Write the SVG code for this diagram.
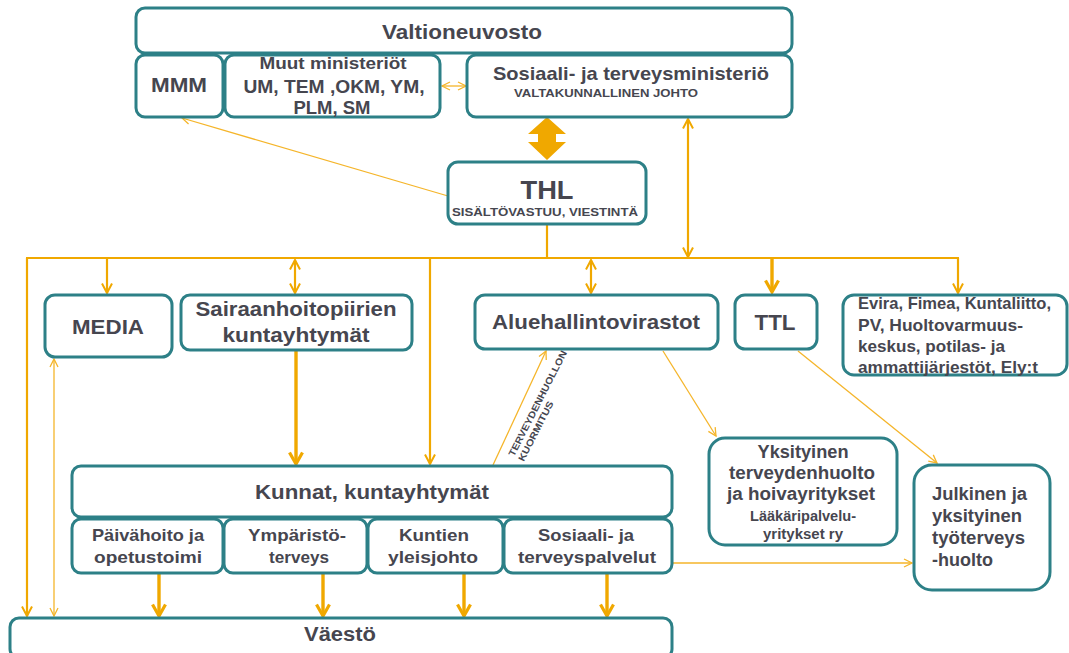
<svg xmlns="http://www.w3.org/2000/svg" width="1069" height="653" viewBox="0 0 1069 653">
<style>
.box{fill:#fff;stroke:#2d8087;stroke-width:3}
.t{font-family:"Liberation Sans",Arial,sans-serif;font-weight:bold;fill:#46464f;text-anchor:middle}
.tl{font-family:"Liberation Sans",Arial,sans-serif;font-weight:bold;fill:#46464f;text-anchor:start}
.thin{stroke:#f5b52a;stroke-width:1.3;fill:none}
.med{stroke:#f0a800;stroke-width:2.2;fill:none}
.thick{stroke:#f0a800;stroke-width:3.4;fill:none}
</style>
<defs>
<marker id="aThin" markerUnits="userSpaceOnUse" viewBox="0 0 10 10" markerWidth="10" markerHeight="10" refX="9" refY="5" orient="auto-start-reverse"><path d="M1,1 L9,5 L1,9" fill="none" stroke="#f5b52a" stroke-width="1.3"/></marker>
<marker id="aMed" markerUnits="userSpaceOnUse" viewBox="0 0 12 12" markerWidth="12" markerHeight="12" refX="10.5" refY="6" orient="auto-start-reverse"><path d="M1,1 L10.5,6 L1,11" fill="none" stroke="#f0a800" stroke-width="2"/></marker>
<marker id="aThick" markerUnits="userSpaceOnUse" viewBox="0 0 16 16" markerWidth="16" markerHeight="16" refX="13" refY="8" orient="auto-start-reverse"><path d="M1.5,1.5 L13,8 L1.5,14.5" fill="none" stroke="#f0a800" stroke-width="3.2"/></marker>
</defs>

<g id="connectors">
<line class="thin" x1="448" y1="196" x2="182" y2="118" marker-end="url(#aThin)"/>
<line class="thin" x1="442" y1="86" x2="466" y2="86" marker-start="url(#aThin)" marker-end="url(#aThin)"/>
<polygon points="547,117 566,134 556,134 556,142 566,142 547,160 528,142 538,142 538,134 528,134" fill="#f0a800"/>
<line class="med" x1="688" y1="119" x2="688" y2="257" stroke-width="1.8" marker-start="url(#aMed)" marker-end="url(#aMed)"/>
<line class="med" x1="547" y1="225" x2="547" y2="258" stroke-width="2.6"/>
<line class="med" x1="26" y1="258" x2="959" y2="258" stroke-width="2.6"/>
<line class="med" x1="27" y1="258" x2="27" y2="616" marker-end="url(#aMed)"/>
<line class="med" x1="107" y1="258" x2="107" y2="293" marker-end="url(#aMed)"/>
<line class="med" x1="295" y1="260" x2="295" y2="293" stroke-width="2.8" marker-start="url(#aMed)" marker-end="url(#aMed)"/>
<line class="med" x1="430" y1="258" x2="430" y2="464" marker-end="url(#aMed)"/>
<line class="med" x1="591" y1="260" x2="591" y2="293" marker-start="url(#aMed)" marker-end="url(#aMed)"/>
<line class="thick" x1="772" y1="258" x2="772" y2="292" marker-end="url(#aThick)"/>
<line class="med" x1="958" y1="258" x2="958" y2="293" stroke-width="2" marker-end="url(#aMed)"/>
<line class="thin" x1="54" y1="359" x2="54" y2="616" marker-start="url(#aThin)" marker-end="url(#aThin)"/>
<line class="thick" x1="296" y1="351" x2="296" y2="464" marker-end="url(#aThick)"/>
<line class="thin" x1="493" y1="465" x2="546" y2="351" marker-end="url(#aThin)"/>
<line class="thin" x1="663" y1="351" x2="716" y2="436" marker-end="url(#aThin)"/>
<line class="thin" x1="798" y1="351" x2="937" y2="463" marker-end="url(#aThin)"/>
<line class="thin" x1="673" y1="563" x2="912" y2="563" marker-end="url(#aThin)"/>
<line class="thick" x1="159" y1="574" x2="159" y2="616" marker-end="url(#aThick)"/>
<line class="thick" x1="323" y1="574" x2="323" y2="616" marker-end="url(#aThick)"/>
<line class="thick" x1="464" y1="574" x2="464" y2="616" marker-end="url(#aThick)"/>
<line class="thick" x1="607" y1="574" x2="607" y2="616" marker-end="url(#aThick)"/>
<g transform="translate(514,457) rotate(-63)">
<text class="tl" x="0" y="0" font-size="9.5" textLength="117" lengthAdjust="spacingAndGlyphs">TERVEYDENHUOLLON</text>
<text class="tl" x="0" y="11" font-size="9.5" textLength="66" lengthAdjust="spacingAndGlyphs">KUORMITUS</text>
</g>
</g>

<g id="valtioneuvosto">
<rect class="box" x="136" y="8" width="656" height="45" rx="9"/>
<text class="t" x="462" y="39" font-size="21" textLength="160" lengthAdjust="spacingAndGlyphs">Valtioneuvosto</text>
</g>
<g id="mmm">
<rect class="box" x="136" y="55" width="87" height="62" rx="9"/>
<text class="t" x="179" y="92" font-size="21" textLength="56" lengthAdjust="spacingAndGlyphs">MMM</text>
</g>
<g id="muut">
<rect class="box" x="225" y="55" width="215" height="62" rx="9"/>
<text class="t" x="333" y="69" font-size="17" textLength="147" lengthAdjust="spacingAndGlyphs">Muut ministeriöt</text>
<text class="t" x="334" y="93" font-size="19" textLength="181" lengthAdjust="spacingAndGlyphs">UM, TEM ,OKM, YM,</text>
<text class="t" x="332" y="114" font-size="19" textLength="77" lengthAdjust="spacingAndGlyphs">PLM, SM</text>
</g>
<g id="stm">
<rect class="box" x="467" y="55" width="325" height="62" rx="9"/>
<text class="t" x="631" y="80" font-size="19" textLength="276" lengthAdjust="spacingAndGlyphs">Sosiaali- ja terveysministeriö</text>
<text class="t" x="606" y="97" font-size="11.5" textLength="184" lengthAdjust="spacingAndGlyphs">VALTAKUNNALLINEN JOHTO</text>
</g>
<g id="thl">
<rect class="box" x="448" y="162" width="198" height="62" rx="10"/>
<text class="t" x="547" y="199" font-size="26" textLength="53" lengthAdjust="spacingAndGlyphs">THL</text>
<text class="t" x="545" y="216" font-size="11.5" textLength="186" lengthAdjust="spacingAndGlyphs">SISÄLTÖVASTUU, VIESTINTÄ</text>
</g>
<g id="media">
<rect class="box" x="45" y="295" width="127" height="62" rx="10"/>
<text class="t" x="108" y="334" font-size="21" textLength="72" lengthAdjust="spacingAndGlyphs">MEDIA</text>
</g>
<g id="sairaanhoito">
<rect class="box" x="181" y="295" width="231" height="55" rx="9"/>
<text class="t" x="296" y="316" font-size="20" textLength="201" lengthAdjust="spacingAndGlyphs">Sairaanhoitopiirien</text>
<text class="t" x="296" y="342" font-size="20" textLength="147" lengthAdjust="spacingAndGlyphs">kuntayhtymät</text>
</g>
<g id="aluehallinto">
<rect class="box" x="475" y="295" width="243" height="54" rx="10"/>
<text class="t" x="596" y="329" font-size="21" textLength="208" lengthAdjust="spacingAndGlyphs">Aluehallintovirastot</text>
</g>
<g id="ttl">
<rect class="box" x="735" y="295" width="82" height="54" rx="10"/>
<text class="t" x="775" y="330" font-size="22" textLength="41" lengthAdjust="spacingAndGlyphs">TTL</text>
</g>
<g id="evira">
<rect class="box" x="843" y="295" width="224" height="80" rx="11"/>
<text class="tl" x="858" y="309" font-size="16.5" textLength="193" lengthAdjust="spacingAndGlyphs">Evira, Fimea, Kuntaliitto,</text>
<text class="tl" x="858" y="331" font-size="16.5" textLength="165" lengthAdjust="spacingAndGlyphs">PV, Huoltovarmuus-</text>
<text class="tl" x="858" y="352" font-size="16.5" textLength="147" lengthAdjust="spacingAndGlyphs">keskus, potilas- ja</text>
<text class="tl" x="858" y="373" font-size="16.5" textLength="180" lengthAdjust="spacingAndGlyphs">ammattijärjestöt, Ely:t</text>
</g>
<g id="kunnat">
<rect class="box" x="72" y="466" width="600" height="51" rx="9"/>
<text class="t" x="372" y="499" font-size="20" textLength="234" lengthAdjust="spacingAndGlyphs">Kunnat, kuntayhtymät</text>
</g>
<g id="paivahoito">
<rect class="box" x="72" y="519" width="151" height="54" rx="9"/>
<text class="t" x="148" y="541" font-size="17" textLength="112" lengthAdjust="spacingAndGlyphs">Päivähoito ja</text>
<text class="t" x="148" y="563" font-size="17" textLength="108" lengthAdjust="spacingAndGlyphs">opetustoimi</text>
</g>
<g id="ymparisto">
<rect class="box" x="224" y="519" width="143" height="54" rx="9"/>
<text class="t" x="297" y="541" font-size="17" textLength="98" lengthAdjust="spacingAndGlyphs">Ympäristö-</text>
<text class="t" x="299" y="563" font-size="17" textLength="60" lengthAdjust="spacingAndGlyphs">terveys</text>
</g>
<g id="kuntien">
<rect class="box" x="368" y="519" width="135" height="54" rx="9"/>
<text class="t" x="434" y="541" font-size="17" textLength="70" lengthAdjust="spacingAndGlyphs">Kuntien</text>
<text class="t" x="433" y="563" font-size="17" textLength="90" lengthAdjust="spacingAndGlyphs">yleisjohto</text>
</g>
<g id="sosiaalipalvelut">
<rect class="box" x="504" y="519" width="168" height="54" rx="9"/>
<text class="t" x="586" y="541" font-size="17" textLength="96" lengthAdjust="spacingAndGlyphs">Sosiaali- ja</text>
<text class="t" x="587" y="563" font-size="17" textLength="138" lengthAdjust="spacingAndGlyphs">terveyspalvelut</text>
</g>
<g id="vaesto">
<rect class="box" x="10" y="618" width="662" height="40" rx="9"/>
<text class="t" x="340" y="641" font-size="20" textLength="72" lengthAdjust="spacingAndGlyphs">Väestö</text>
</g>
<g id="yksityinen">
<rect class="box" x="709" y="438" width="188" height="107" rx="16"/>
<text class="t" x="803" y="458" font-size="18" textLength="91" lengthAdjust="spacingAndGlyphs">Yksityinen</text>
<text class="t" x="802" y="479" font-size="18" textLength="146" lengthAdjust="spacingAndGlyphs">terveydenhuolto</text>
<text class="t" x="801" y="500" font-size="18" textLength="148" lengthAdjust="spacingAndGlyphs">ja hoivayritykset</text>
<text class="t" x="803" y="521" font-size="14" textLength="106" lengthAdjust="spacingAndGlyphs">Lääkäripalvelu-</text>
<text class="t" x="803" y="539" font-size="14" textLength="80" lengthAdjust="spacingAndGlyphs">yritykset ry</text>
</g>
<g id="julkinen">
<rect class="box" x="914" y="465" width="136" height="125" rx="18"/>
<text class="tl" x="932" y="500" font-size="18" textLength="95" lengthAdjust="spacingAndGlyphs">Julkinen ja</text>
<text class="tl" x="932" y="522" font-size="18" textLength="90" lengthAdjust="spacingAndGlyphs">yksityinen</text>
<text class="tl" x="932" y="544" font-size="18" textLength="93" lengthAdjust="spacingAndGlyphs">työterveys</text>
<text class="tl" x="932" y="566" font-size="18" textLength="61" lengthAdjust="spacingAndGlyphs">-huolto</text>
</g>
</svg>
